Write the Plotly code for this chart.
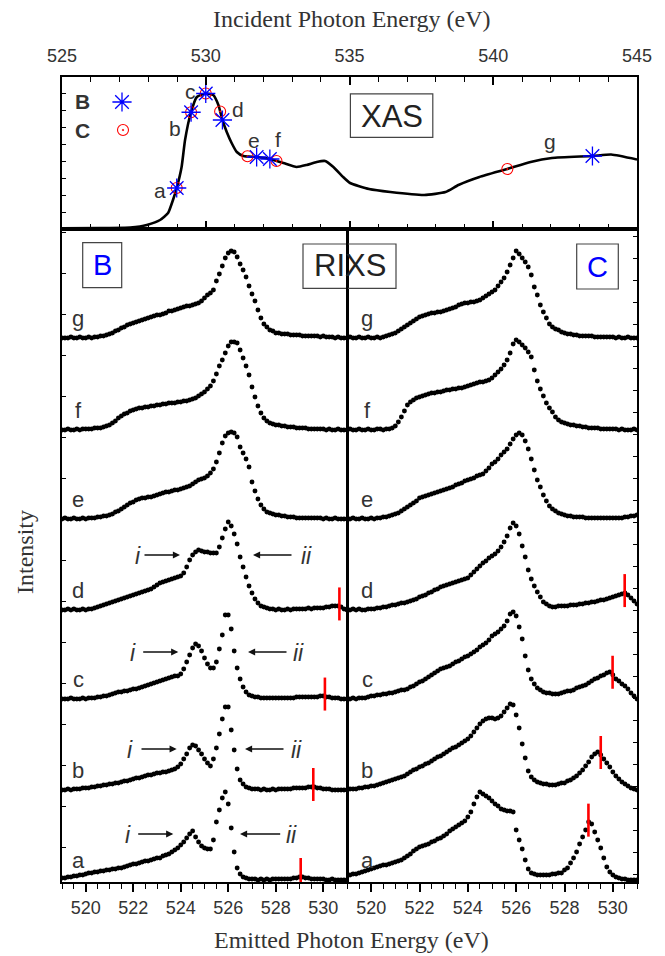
import numpy as np
import plotly.graph_objects as go

W, H = 665, 956

# ---------------- XAS (top panel) ----------------
XAS_E = [525.0, 526.32, 527.37, 527.71, 527.95, 528.41, 528.69, 528.86, 528.99, 529.16,
         529.28, 529.48, 529.69, 530.0, 530.26, 530.44, 530.58, 530.73, 530.9, 531.08,
         531.31, 531.77, 532.23, 532.7, 533.16, 533.51, 533.86, 534.15, 534.44, 534.78,
         535.02, 535.68, 536.42, 537.6, 538.34, 538.79, 539.52, 540.49, 541.3, 542.04,
         543.45, 544.1, 545.0]
XAS_I = [0.7, 1, 1.5, 2.5, 4, 9, 16, 29, 41, 62,
         89, 116, 132, 135.5, 134, 124, 109, 97, 86, 77,
         73, 72, 70, 66, 62, 64, 67, 68, 62, 52,
         46, 40, 37, 34, 37, 44, 52, 60, 67, 71,
         73, 74.5, 69.5]
B_EXC = [528.99, 529.49, 530.0, 530.58, 531.77, 532.23, 543.45]
C_EXC = [528.99, 529.49, 530.0, 530.5, 531.45, 532.46, 540.49]
EXC_LABELS = ["a", "b", "c", "d", "e", "f", "g"]
TOP_TICKS = [525, 530, 535, 540, 545]

# ---------------- RIXS (bottom panels) ----------------
EMIT_START, EMIT_STEP, EMIT_N = 519.0, 0.125, 97
BOTTOM_TICKS = [520, 522, 524, 526, 528, 530]
OFFSETS = [2, 92, 183, 272, 363, 452, 544]

B_a = [2, 2, 3, 3, 4, 4, 5, 5,
       6, 7, 7, 8, 8, 9, 9, 10,
       10, 11, 11, 12, 12, 13, 14, 15,
       16, 16, 17, 18, 19, 19, 20, 21,
       22, 22, 24, 25, 26, 28, 30, 32,
       35, 38, 42, 46, 49, 43, 38, 34,
       32, 31, 31, 40, 58, 70, 82, 88,
       76, 52, 28, 12, 6, 3, 2, 1,
       1, 1, 0, 1, 0, 1, 0, 1,
       1, 1, 1, 1, 1, 1, 2, 2,
       3, 3, 2, 2, 1, 1, 1, 1,
       1, 0, 0, 1, 0, 0, 0, 0,
       0]
B_b = [0, 0, 1, 0, 1, 1, 1, 2,
       2, 2, 3, 3, 4, 4, 5, 5,
       6, 6, 7, 7, 8, 9, 9, 10,
       11, 12, 12, 13, 14, 15, 15, 16,
       17, 17, 18, 18, 19, 20, 21, 23,
       26, 31, 36, 42, 45, 44, 40, 36,
       31, 27, 24, 31, 42, 56, 71, 83,
       83, 60, 40, 21, 10, 6, 3, 2,
       1, 1, 1, 0, 1, 0, 0, 1,
       0, 1, 1, 1, 1, 1, 2, 2,
       2, 2, 2, 3, 3, 3, 2, 2,
       1, 1, 1, 0, 0, 0, 0, 0,
       0]
B_c = [0, 0, 0, 1, 0, 0, 0, 1,
       0, 1, 1, 1, 2, 2, 3, 3,
       4, 5, 6, 7, 7, 8, 8, 9,
       10, 10, 11, 12, 13, 14, 15, 16,
       17, 18, 19, 20, 21, 22, 23, 23,
       25, 30, 37, 44, 51, 55, 53, 48,
       41, 35, 31, 31, 37, 50, 64, 84,
       84, 70, 48, 31, 20, 12, 7, 4,
       3, 2, 2, 1, 1, 1, 1, 1,
       1, 1, 1, 1, 1, 1, 1, 2,
       2, 2, 2, 2, 2, 2, 2, 3,
       3, 2, 2, 1, 1, 1, 0, 0,
       0]
B_d = [0, 0, 1, 0, 1, 0, 0, 1,
       0, 1, 1, 2, 3, 4, 5, 6,
       7, 8, 9, 10, 11, 12, 13, 14,
       15, 16, 17, 18, 19, 20, 21, 23,
       25, 27, 28, 29, 30, 31, 32, 33,
       34, 37, 43, 50, 55, 58, 60, 59,
       58, 58, 57, 57, 57, 63, 72, 81,
       88, 84, 76, 66, 53, 43, 33, 24,
       17, 11, 7, 4, 3, 2, 1, 1,
       0, 1, 0, 0, 1, 0, 1, 1,
       1, 1, 1, 2, 1, 2, 2, 2,
       2, 3, 3, 4, 4, 4, 3, 1,
       0]
B_e = [0, 1, 0, 0, 1, 0, 0, 1,
       0, 1, 1, 1, 2, 2, 3, 3,
       4, 5, 7, 8, 10, 12, 14, 16,
       17, 19, 20, 21, 21, 22, 22, 23,
       24, 25, 26, 27, 27, 28, 29, 29,
       30, 31, 32, 33, 35, 37, 39, 40,
       41, 43, 46, 50, 57, 66, 76, 83,
       86, 87, 86, 82, 72, 66, 60, 52,
       37, 28, 20, 14, 10, 7, 6, 5,
       4, 4, 3, 3, 2, 2, 2, 1,
       1, 1, 1, 1, 1, 1, 1, 1,
       0, 1, 0, 0, 1, 0, 0, 0,
       0]
B_f = [0, 0, 1, 0, 0, 1, 0, 1,
       1, 1, 1, 2, 2, 2, 3, 4,
       5, 7, 9, 12, 14, 16, 17, 19,
       20, 21, 22, 22, 23, 23, 24, 24,
       25, 25, 26, 26, 27, 27, 27, 28,
       28, 29, 29, 30, 31, 32, 34, 36,
       38, 41, 44, 49, 56, 64, 70, 77,
       84, 88, 88, 87, 80, 72, 64, 55,
       43, 33, 24, 17, 12, 9, 7, 6,
       5, 5, 4, 4, 3, 3, 3, 2,
       2, 2, 2, 1, 1, 1, 1, 1,
       1, 0, 1, 0, 0, 1, 0, 0,
       0]
B_g = [0, 0, 0, 1, 0, 0, 1, 0,
       0, 1, 0, 1, 1, 2, 2, 3,
       4, 5, 7, 8, 10, 11, 13, 14,
       15, 16, 17, 18, 19, 20, 21, 22,
       23, 23, 24, 25, 27, 27, 28, 29,
       30, 31, 32, 32, 33, 34, 35, 37,
       40, 43, 45, 48, 57, 64, 72, 80,
       85, 87, 86, 81, 74, 68, 61, 52,
       44, 37, 28, 20, 14, 11, 8, 7,
       5, 5, 4, 4, 4, 3, 3, 3,
       3, 2, 2, 2, 2, 2, 2, 1,
       2, 1, 1, 1, 0, 1, 0, 0,
       0]

C_a = [4, 5, 6, 6, 7, 8, 9, 10,
       11, 12, 13, 14, 15, 15, 16, 17,
       18, 19, 20, 22, 24, 26, 29, 31,
       33, 34, 35, 36, 38, 39, 41, 42,
       44, 46, 49, 51, 53, 55, 57, 59,
       63, 68, 76, 83, 88, 86, 84, 82,
       79, 76, 74, 71, 70, 69, 69, 68,
       50, 40, 31, 20, 11, 7, 6, 5,
       5, 5, 5, 5, 6, 6, 7, 7,
       10, 12, 17, 22, 28, 36, 43, 50,
       58, 56, 48, 40, 32, 22, 13, 8,
       5, 3, 2, 1, 1, 0, 0, 0,
       0]
C_b = [0, 1, 1, 1, 2, 2, 3, 3,
       4, 4, 5, 6, 7, 8, 9, 10,
       11, 12, 13, 14, 16, 18, 20, 21,
       23, 24, 26, 27, 29, 31, 33, 34,
       36, 38, 40, 42, 43, 45, 47, 49,
       51, 54, 58, 62, 66, 69, 71, 72,
       72, 71, 72, 74, 78, 82, 86, 85,
       75, 62, 46, 32, 19, 13, 10, 8,
       7, 6, 6, 5, 5, 5, 6, 7,
       7, 9, 10, 12, 14, 17, 20, 24,
       28, 33, 36, 38, 35, 31, 27, 23,
       18, 14, 11, 8, 6, 4, 2, 1,
       0]
C_c = [0, 0, 1, 0, 1, 1, 1, 2,
       3, 3, 4, 4, 5, 5, 6, 6,
       7, 8, 9, 9, 10, 12, 13, 15,
       17, 18, 20, 22, 24, 26, 28, 30,
       31, 32, 33, 35, 37, 38, 40, 42,
       43, 45, 47, 49, 52, 54, 56, 59,
       63, 65, 67, 70, 73, 78, 85, 87,
       83, 72, 60, 43, 29, 20, 15, 11,
       9, 7, 6, 6, 5, 5, 5, 6,
       7, 8, 8, 9, 11, 12, 13, 14,
       16, 18, 20, 21, 23, 24, 26, 27,
       24, 20, 18, 15, 13, 10, 6, 3,
       0]
C_d = [0, 0, 1, 0, 1, 0, 0, 1,
       1, 1, 2, 2, 3, 3, 4, 5,
       5, 6, 7, 7, 8, 9, 10, 11,
       13, 14, 15, 17, 18, 20, 21, 23,
       24, 25, 26, 27, 28, 29, 30, 31,
       32, 35, 38, 41, 44, 47, 49, 52,
       54, 56, 59, 63, 68, 74, 82, 87,
       84, 76, 64, 53, 40, 31, 24, 18,
       13, 8, 6, 4, 3, 3, 4, 4,
       4, 4, 5, 5, 5, 6, 6, 7,
       7, 8, 8, 9, 10, 10, 11, 12,
       13, 14, 15, 16, 17, 15, 12, 9,
       6]
C_e = [0, 0, 1, 0, 0, 1, 0, 0,
       1, 0, 1, 1, 2, 2, 3, 4,
       5, 6, 8, 10, 12, 14, 16, 18,
       21, 22, 23, 24, 25, 26, 27, 28,
       29, 30, 31, 32, 34, 35, 36, 38,
       39, 40, 41, 43, 44, 45, 48, 51,
       55, 57, 60, 64, 67, 70, 75, 80,
       84, 86, 84, 78, 70, 60, 49, 39,
       32, 24, 18, 13, 10, 8, 6, 5,
       4, 3, 3, 2, 2, 2, 2, 1,
       1, 1, 1, 1, 1, 1, 1, 1,
       1, 1, 1, 1, 2, 2, 3, 3,
       4]
C_f = [0, 1, 0, 0, 1, 0, 0, 1,
       0, 0, 1, 1, 0, 1, 1, 2,
       4, 8, 13, 19, 25, 28, 30, 32,
       33, 34, 35, 36, 37, 37, 38, 38,
       39, 40, 40, 41, 41, 42, 42, 43,
       44, 45, 46, 47, 48, 48, 49, 50,
       52, 55, 58, 61, 65, 70, 77, 86,
       90, 88, 85, 82, 78, 73, 60, 49,
       41, 34, 27, 22, 18, 13, 10, 8,
       7, 6, 5, 5, 4, 4, 3, 3,
       2, 2, 2, 2, 1, 1, 1, 1,
       1, 1, 0, 1, 0, 0, 0, 1,
       0]
C_g = [0, 1, 0, 0, 1, 0, 0, 1,
       0, 0, 1, 0, 1, 2, 3, 4,
       5, 7, 9, 11, 13, 15, 17, 19,
       21, 22, 23, 24, 25, 25, 26, 26,
       27, 28, 29, 30, 31, 33, 34, 35,
       35, 36, 36, 37, 38, 40, 42, 44,
       46, 48, 52, 56, 60, 66, 73, 80,
       87, 84, 80, 76, 71, 63, 51, 43,
       33, 26, 20, 14, 11, 9, 8, 6,
       5, 4, 4, 3, 3, 2, 2, 2,
       2, 2, 1, 1, 1, 1, 1, 1,
       1, 0, 1, 0, 0, 1, 0, 0,
       0]

B_SPECTRA = [B_a, B_b, B_c, B_d, B_e, B_f, B_g]
C_SPECTRA = [C_a, C_b, C_c, C_d, C_e, C_f, C_g]
B_RED = [529.05, 529.58, 530.07, 530.68]
C_RED = [528.99, 529.50, 529.99, 530.49]

# ---------------- helpers / style ----------------
def PX(x):
    return x / W


def PY(y):
    return 1 - y / H


SANS = "Liberation Sans, Arial, sans-serif"
SERIF = "Liberation Serif, Times New Roman, serif"
TXT = "#333333"

emit = EMIT_START + EMIT_STEP * np.arange(EMIT_N)

fig = go.Figure()

# XAS curve
fig.add_trace(go.Scatter(x=XAS_E, y=XAS_I, mode="lines", xaxis="x3", yaxis="y3",
                         line=dict(color="black", width=2.6, shape="spline", smoothing=0.5),
                         showlegend=False, hoverinfo="skip"))
fig.add_trace(go.Scatter(x=C_EXC, y=np.interp(C_EXC, XAS_E, XAS_I), mode="markers",
                         xaxis="x3", yaxis="y3", name=" ", legend="legend2",
                         marker=dict(symbol="circle-open-dot", size=11, color="red",
                                     line=dict(width=1.1, color="red"))))
fig.add_trace(go.Scatter(x=B_EXC, y=np.interp(B_EXC, XAS_E, XAS_I), mode="markers",
                         xaxis="x3", yaxis="y3", name=" ", legend="legend",
                         marker=dict(symbol="asterisk-open", size=16, color="blue",
                                     line=dict(width=1.3, color="blue"))))

# RIXS spectra
for spectra, xa, ya in [(B_SPECTRA, "x", "y"), (C_SPECTRA, "x2", "y2")]:
    for off, vals in zip(OFFSETS, spectra):
        fig.add_trace(go.Scatter(x=emit, y=off + np.array(vals, float), mode="markers",
                                 xaxis=xa, yaxis=ya, showlegend=False, hoverinfo="skip",
                                 marker=dict(size=4.9, color="black")))

# red markers for elastic position
for reds, spectra, xa, ya in [(B_RED, B_SPECTRA, "x", "y"), (C_RED, C_SPECTRA, "x2", "y2")]:
    for i, e in enumerate(reds):
        c = OFFSETS[i] + np.interp(e, emit, spectra[i])
        fig.add_trace(go.Scatter(x=[e, e], y=[c - 14, c + 19], mode="lines",
                                 xaxis=xa, yaxis=ya, showlegend=False, hoverinfo="skip",
                                 line=dict(color="red", width=2.6)))

ann = []


def txt(x, y, s, size, color=TXT, family=SANS, **kw):
    ann.append(dict(x=PX(x), y=PY(y), xref="paper", yref="paper", text=s, showarrow=False,
                    font=dict(size=size, color=color, family=family),
                    xanchor="center", yanchor="middle", **kw))


# titles
txt(352, 19, "Incident Photon Energy (eV)", 24, family=SERIF)
txt(352, 940, "Emitted Photon Energy (eV)", 24, family=SERIF)
txt(25, 552, "Intensity", 24, family=SERIF, textangle=-90)

# top panel text
txt(82, 102, "<b>B</b>", 21)
txt(82, 130, "<b>C</b>", 21)
txt(391.6, 116, "XAS", 31, color="#222222")
for lab, (x, y) in zip(EXC_LABELS, [(160, 190), (175, 128), (190, 92), (238, 109),
                                    (254, 140), (278, 139), (550, 142)]):
    txt(x, y, lab, 21)

# bottom panel boxes text
txt(102, 265, "B", 29, color="blue")
txt(349.5, 266, "RIXS", 31, color="#222222")
txt(597.5, 266.5, "C", 29, color="blue")

# spectrum letters
for i, lab in enumerate(EXC_LABELS):
    base = 882 - OFFSETS[i]
    txt(78, base - 20, lab, 22)
    txt(367, base - 20, lab, 22)

# i / ii arrows (left panel a-d)
arrow_rows = [(834, 128.3, 136.7, 173.3, 291.7, 281.7, 240),
              (749, 130, 140, 176.7, 296.7, 285, 245),
              (652, 133.3, 141.7, 178.3, 298.3, 288, 248),
              (555, 138.3, 143, 180, 306.7, 293, 253)]
for (y, xi, x0, x1, xii, x2, x3) in arrow_rows:
    txt(xi, y + 1, "<i>i</i>", 23)
    txt(xii, y + 1, "<i>ii</i>", 23)
    for (a, b) in [(x0, x1), (x2, x3)]:
        ann.append(dict(x=PX(b), y=PY(y), ax=a - b, ay=0, xref="paper", yref="paper",
                        axref="pixel", ayref="pixel", text="", showarrow=True,
                        arrowhead=2, arrowsize=1.1, arrowwidth=1.3, arrowcolor="#111111"))

shapes = []
for (x0, y0, x1, y1) in [(350.4, 93.8, 432.8, 137.4), (303, 244, 396, 288.3),
                         (82.7, 242.7, 121.7, 287.7), (576.7, 244, 618.3, 289)]:
    shapes.append(dict(type="rect", xref="paper", yref="paper", x0=PX(x0), x1=PX(x1),
                       y0=PY(y1), y1=PY(y0), line=dict(color="#444444", width=1.2)))
# divider between the two RIXS panels
shapes.append(dict(type="line", xref="paper", yref="paper", x0=PX(347), x1=PX(347),
                   y0=PY(882), y1=PY(229), line=dict(color="black", width=2)))

tickfont = dict(family=SANS, size=18, color=TXT)
xbot = dict(range=[519, 531], showline=True, linecolor="black", linewidth=2, mirror=True,
            ticks="outside", ticklen=8, tickwidth=1.5, tickcolor="black", automargin=False,
            tickvals=BOTTOM_TICKS, tickfont=tickfont, showgrid=False, zeroline=False,
            minor=dict(dtick=0.5, tick0=519, ticks="outside", ticklen=5, tickwidth=1.2,
                       tickcolor="black", showgrid=False))
ybot = dict(range=[0, 653], showline=True, linecolor="black", linewidth=2, mirror=True,
            ticks="inside", ticklen=4, tickwidth=1, tickcolor="black", automargin=False,
            showticklabels=False, showgrid=False, zeroline=False,
            domain=[PY(882), PY(229)])

fig.update_layout(
    template="none",
    width=W, height=H, autosize=False, margin=dict(l=0, r=0, t=0, b=0, pad=0),
    paper_bgcolor="white", plot_bgcolor="white",
    xaxis=dict(xbot, domain=[PX(62), PX(347)], anchor="y"),
    xaxis2=dict(xbot, domain=[PX(347), PX(637)], anchor="y2"),
    yaxis=dict(ybot, anchor="x", tick0=35, dtick=41),
    yaxis2=dict(ybot, anchor="x2", side="right", tick0=8, dtick=22, mirror=False),
    xaxis3=dict(range=[525, 545], domain=[PX(62), PX(637)], anchor="y3", side="top",
                showline=True, linecolor="black", linewidth=2, mirror="allticks",
                ticks="inside", ticklen=8, tickwidth=1.5, tickcolor="black",
                tickvals=TOP_TICKS, tickfont=tickfont, ticklabelstandoff=6, automargin=False,
                showgrid=False, zeroline=False,
                minor=dict(dtick=1, tick0=525, ticks="inside", ticklen=5, tickwidth=1.2,
                           tickcolor="black", showgrid=False)),
    yaxis3=dict(range=[0, 152], domain=[PY(229), PY(77)], anchor="x3", automargin=False,
                showline=True, linecolor="black", linewidth=2, mirror=True,
                ticks="inside", ticklen=4, tickwidth=1, tickcolor="black", dtick=17,
                showticklabels=False, showgrid=False, zeroline=False),
    legend=dict(x=PX(102), y=PY(102), xanchor="left", yanchor="middle",
                bgcolor="rgba(0,0,0,0)", font=dict(size=12), borderwidth=0),
    legend2=dict(x=PX(103), y=PY(130), xanchor="left", yanchor="middle",
                 bgcolor="rgba(0,0,0,0)", font=dict(size=12), borderwidth=0),
    annotations=ann, shapes=shapes,
)

fig.write_html("out.html", config={"displayModeBar": False},
               post_script="document.body.style.margin='0px';"
                           "document.body.style.overflow='hidden';")
